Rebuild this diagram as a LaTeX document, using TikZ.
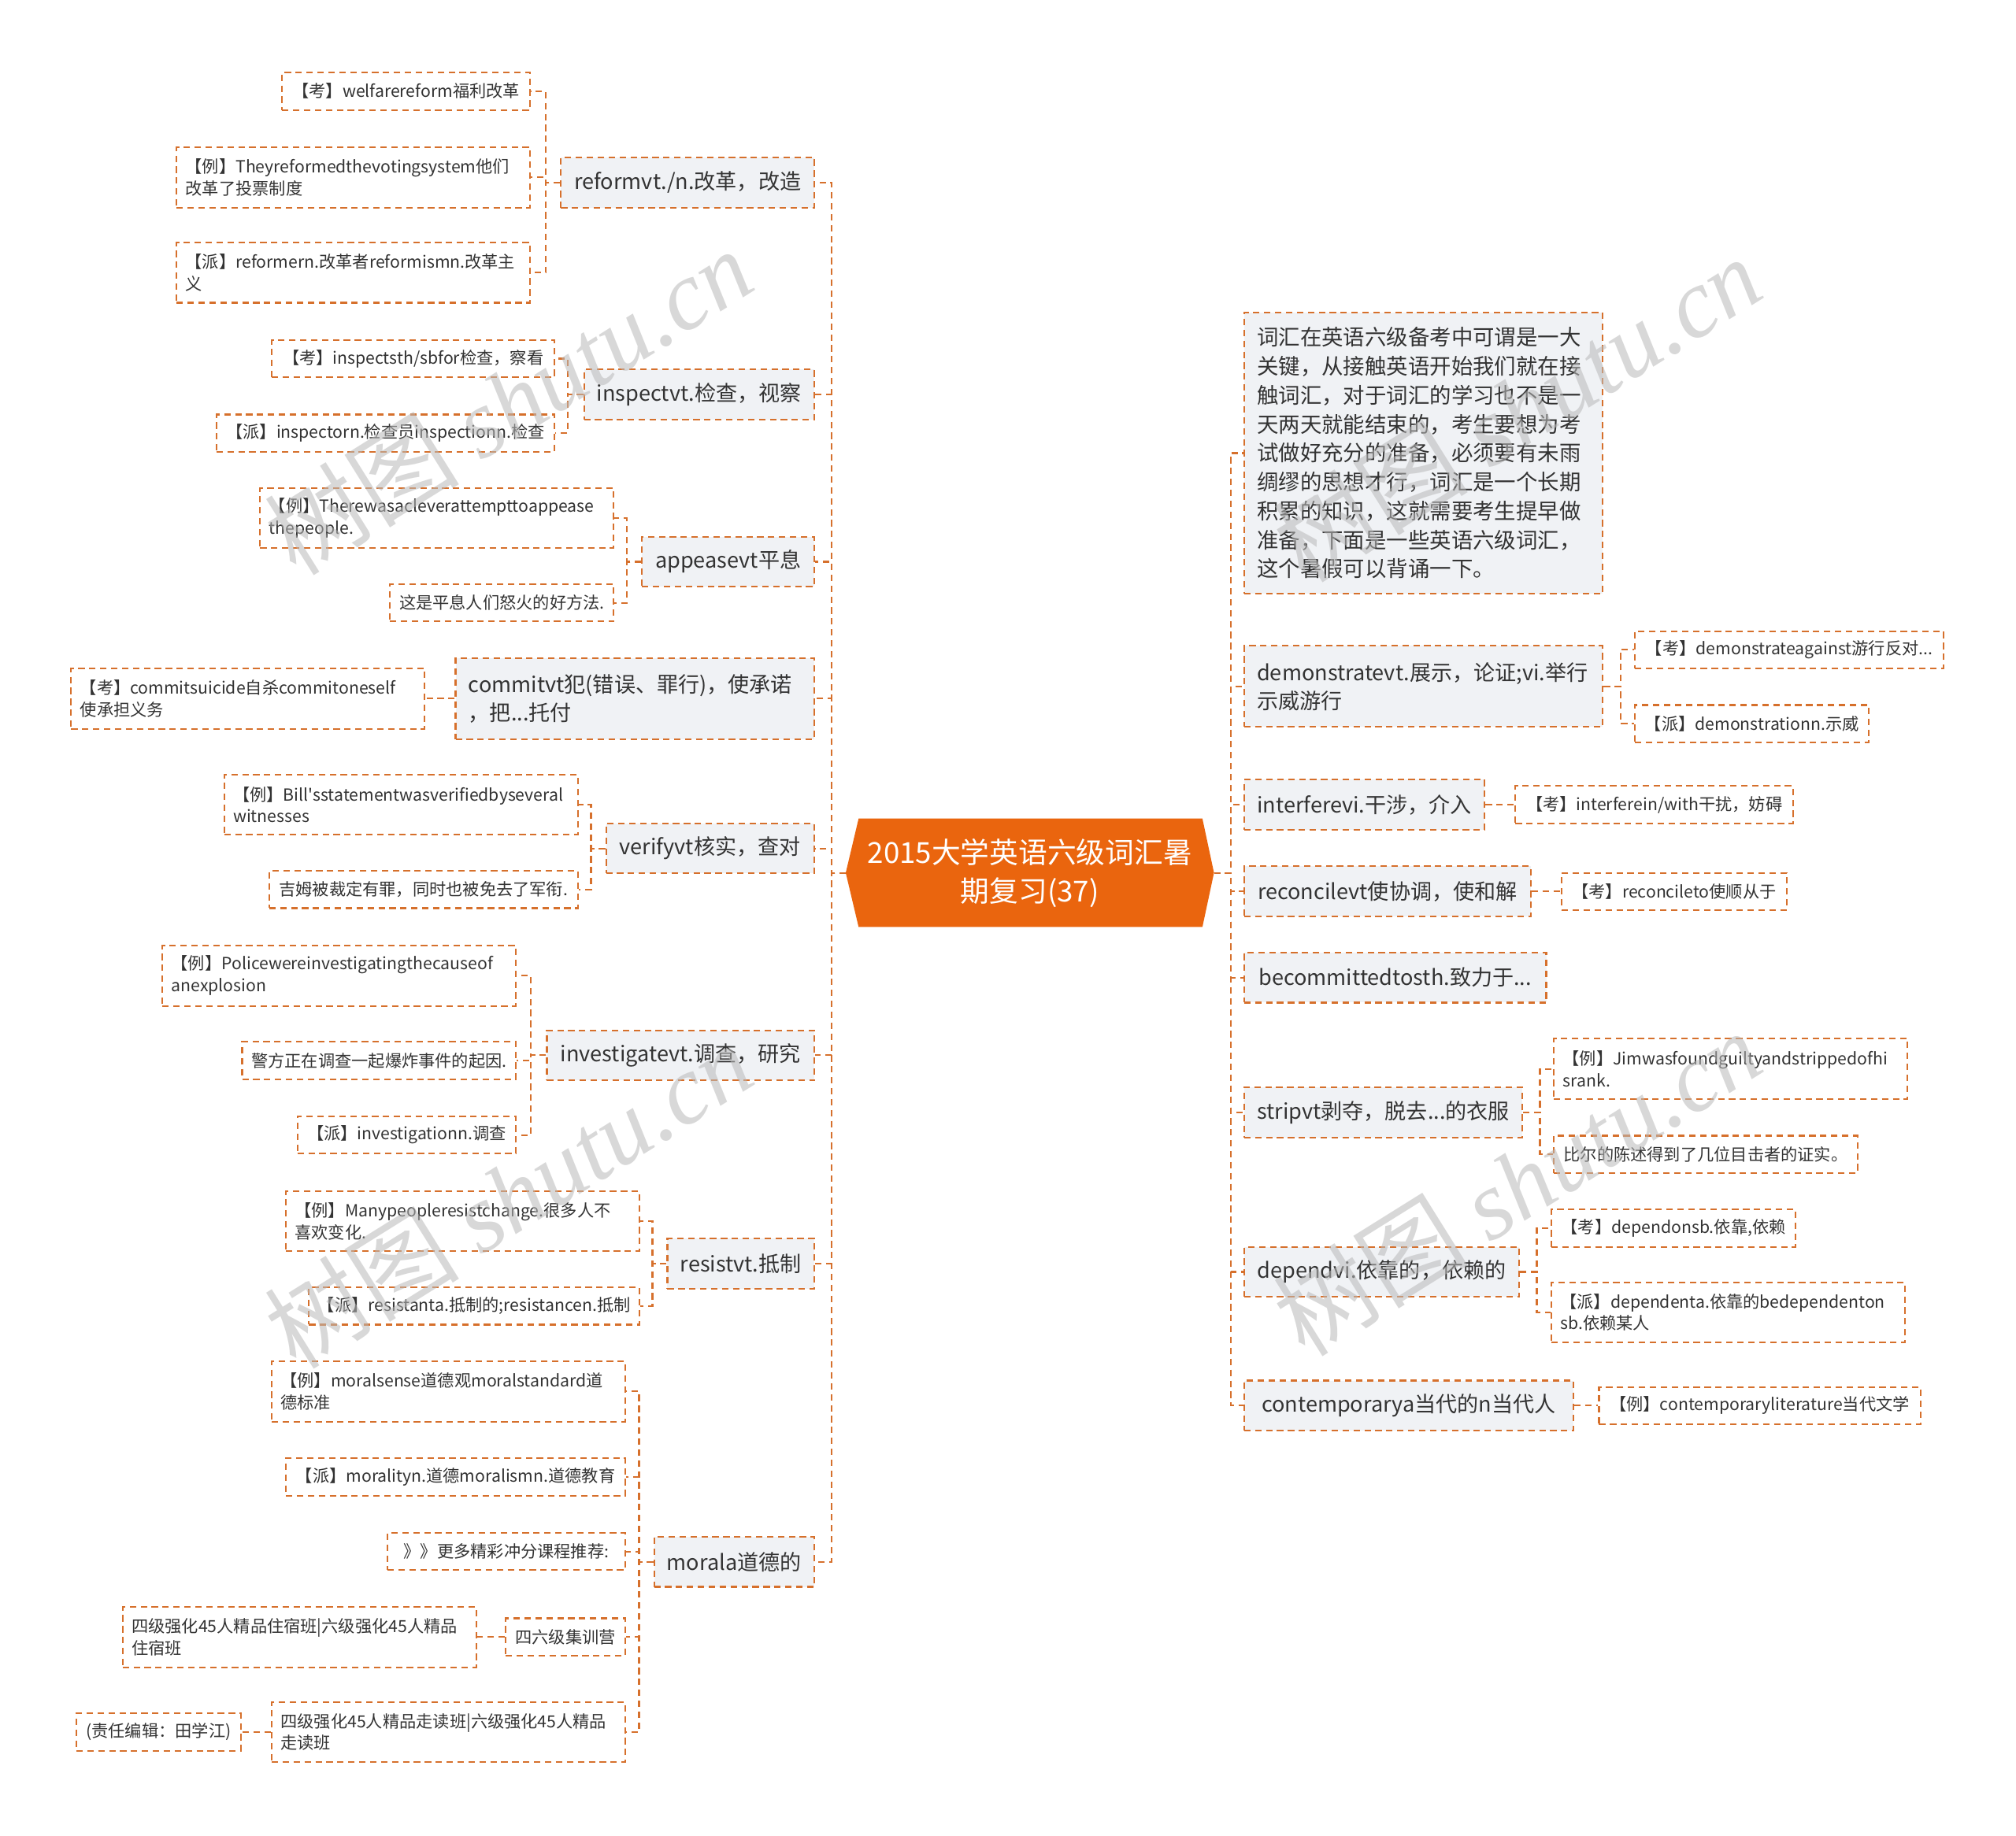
\documentclass[tikz,border=0pt]{standalone}
\usepackage{fontspec}
\setmainfont{Noto Sans CJK SC}
\newfontfamily\markfont{Liberation Serif}
\usetikzlibrary{backgrounds}
\definecolor{lineorange}{RGB}{214,112,44}
\definecolor{hubfill}{RGB}{234,101,14}
\definecolor{boxgray}{RGB}{240,242,245}
\definecolor{inktext}{RGB}{51,51,51}
\definecolor{markgray}{RGB}{185,185,185}
\tikzset{
  dashbox/.style={draw=lineorange, line width=1.3pt, dash pattern=on 5pt off 3.5pt},
  link/.style={dashbox},
  leaf/.style={dashbox, fill=white, text=inktext, font=\fontsize{13}{17}\selectfont, align=left, inner xsep=7pt, inner ysep=4pt, minimum height=29pt},
  leafwide/.style={leaf, text width=261pt, minimum height=47pt},
  branch/.style={dashbox, fill=boxgray, text=inktext, font=\fontsize{16.6}{22}\selectfont, align=left, inner xsep=10pt, inner ysep=4pt, minimum height=39pt},
  branchwide/.style={branch, text width=259pt, minimum height=63pt},
  wd/.style={minimum width=#1},
  hub/.style={text=white, font=\fontsize{22.5}{30}\selectfont, align=center, minimum width=286pt, minimum height=84pt, inner sep=0pt},
  stamp/.style={text=markgray, opacity=0.55, rotate=32, font=\fontsize{76}{76}\selectfont}
}
\begin{document}
\begin{tikzpicture}[x=1pt, y=-1pt]
\useasboundingbox (0,0) rectangle (1568,1428);

% centre
\node[hub] (hub) at (801,679) {2015大学英语六级词汇暑\\期复习(37)};
\begin{pgfonlayer}{background}
  \fill[white] (0,0) rectangle (1568,1428);
  \fill[hubfill] (hub.west) -- ([xshift=10pt]hub.north west) -- ([xshift=-9pt]hub.north east) -- (hub.east) -- ([xshift=-9pt]hub.south east) -- ([xshift=10pt]hub.south west) -- cycle;
\end{pgfonlayer}

% left branches
\node[branch, wd=197pt, anchor=east] (reform) at (634,142) {reformvt./n.改革，改造};
\node[branch, wd=178pt, anchor=east] (inspect) at (634,307) {inspectvt.检查，视察};
\node[branch, wd=134pt, anchor=east] (appease) at (634,437) {appeasevt平息};
\node[branchwide, anchor=east] (commit) at (634,543.5) {commitvt犯(错误、罪行)，使承诺\\，把...托付};
\node[branch, wd=162pt, anchor=east] (verify) at (634,660) {verifyvt核实，查对};
\node[branch, wd=208pt, anchor=east] (investigate) at (634,821) {investigatevt.调查，研究};
\node[branch, wd=113pt, anchor=east] (resist) at (634,983) {resistvt.抵制};
\node[branch, wd=124pt, anchor=east] (moral) at (634,1215) {morala道德的};
\foreach \b in {reform,inspect,appease,commit,verify,investigate,resist,moral}
  \draw[link] (hub.west) -- ++(-11,0) |- (\b.east);

% right branches
\node[branchwide, anchor=west, minimum height=219pt, font=\fontsize{16.8}{22.5}\selectfont] (intro) at (967,352.5) {词汇在英语六级备考中可谓是一大\\关键，从接触英语开始我们就在接\\触词汇，对于词汇的学习也不是一\\天两天就能结束的，考生要想为考\\试做好充分的准备，必须要有未雨\\绸缪的思想才行，词汇是一个长期\\积累的知识，这就需要考生提早做\\准备，下面是一些英语六级词汇，\\这个暑假可以背诵一下。};
\node[branchwide, anchor=west] (demo) at (967,534) {demonstratevt.展示，论证;vi.举行\\示威游行};
\node[branch, wd=187pt, anchor=west] (interfere) at (967,626) {interferevi.干涉，介入};
\node[branch, wd=223pt, anchor=west] (reconcile) at (967,693.5) {reconcilevt使协调，使和解};
\node[branch, wd=235pt, anchor=west] (committed) at (967,760.5) {becommittedtosth.致力于...};
\node[branch, wd=216pt, anchor=west] (strip) at (967,865.5) {stripvt剥夺，脱去...的衣服};
\node[branch, wd=214pt, anchor=west] (depend) at (967,989.5) {dependvi.依靠的，依赖的};
\node[branch, wd=256pt, anchor=west] (contemp) at (967,1093.5) {contemporarya当代的n当代人};
\foreach \b in {intro,demo,interfere,reconcile,committed,strip,depend,contemp}
  \draw[link] (hub.east) -- ++(13,0) |- (\b.west);

% reform
\node[leaf, wd=193pt, anchor=east] (reform1) at (413,71) {【考】welfarereform福利改革};
\node[leafwide, anchor=east] (reform2) at (413,138) {【例】Theyreformedthevotingsystem他们\\改革了投票制度};
\node[leafwide, anchor=east] (reform3) at (413,212) {【派】reformern.改革者reformismn.改革主\\义};
\foreach \l in {reform1,reform2,reform3}
  \draw[link] (reform.west) -- ++(-11,0) |- (\l.east);

% inspect
\node[leaf, wd=220pt, anchor=east] (inspect1) at (432,279) {【考】inspectsth/sbfor检查，察看};
\node[leaf, wd=263pt, anchor=east] (inspect2) at (432,337) {【派】inspectorn.检查员inspectionn.检查};
\foreach \l in {inspect1,inspect2}
  \draw[link] (inspect.west) -- ++(-12,0) |- (\l.east);

% appease
\node[leafwide, anchor=east] (appease1) at (478,403) {【例】Therewasacleverattempttoappease\\thepeople.};
\node[leaf, wd=174pt, anchor=east] (appease2) at (478,469) {这是平息人们怒火的好方法.};
\foreach \l in {appease1,appease2}
  \draw[link] (appease.west) -- ++(-11,0) |- (\l.east);

% commit
\node[leafwide, anchor=east] (commit1) at (331,543.5) {【考】commitsuicide自杀commitoneself\\使承担义务};
\draw[link] (commit.west) -- ++(-12,0) |- (commit1.east);

% verify
\node[leafwide, anchor=east] (verify1) at (450,626) {【例】Bill\textquotesingle sstatementwasverifiedbyseveral\\witnesses};
\node[leaf, wd=240pt, anchor=east] (verify2) at (450,692) {吉姆被裁定有罪，同时也被免去了军衔.};
\foreach \l in {verify1,verify2}
  \draw[link] (verify.west) -- ++(-11,0) |- (\l.east);

% investigate
\node[leafwide, anchor=east] (investigate1) at (402,759) {【例】Policewereinvestigatingthecauseof\\anexplosion};
\node[leaf, wd=213pt, anchor=east] (investigate2) at (402,825) {警方正在调查一起爆炸事件的起因.};
\node[leaf, wd=170pt, anchor=east] (investigate3) at (402,883) {【派】investigationn.调查};
\foreach \l in {investigate1,investigate2,investigate3}
  \draw[link] (investigate.west) -- ++(-12,0) |- (\l.east);

% resist
\node[leafwide, anchor=east] (resist1) at (498,950) {【例】Manypeopleresistchange.很多人不\\喜欢变化.};
\node[leaf, wd=257pt, anchor=east] (resist2) at (498,1016) {【派】resistanta.抵制的;resistancen.抵制};
\foreach \l in {resist1,resist2}
  \draw[link] (resist.west) -- ++(-11,0) |- (\l.east);

% moral
\node[leafwide, anchor=east] (moral1) at (487,1082.5) {【例】moralsense道德观moralstandard道\\德标准};
\node[leaf, wd=264pt, anchor=east] (moral2) at (487,1149) {【派】moralityn.道德moralismn.道德教育};
\node[leaf, wd=185pt, anchor=east] (moral3) at (487,1207) {》》更多精彩冲分课程推荐:};
\node[leaf, wd=93pt, anchor=east] (moral4) at (487,1273.5) {四六级集训营};
\node[leafwide, anchor=east] (moral5) at (487,1347.5) {四级强化45人精品走读班|六级强化45人精品\\走读班};
\foreach \l in {moral1,moral2,moral3,moral4,moral5}
  \draw[link] (moral.west) -- ++(-11,0) |- (\l.east);
\node[leafwide, anchor=east] (camp1) at (371,1273.5) {四级强化45人精品住宿班|六级强化45人精品\\住宿班};
\draw[link] (moral4.west) -- ++(-12,0) |- (camp1.east);
\node[leaf, wd=128pt, anchor=east] (editor) at (188,1347.5) {(责任编辑：田学江)};
\draw[link] (moral5.west) -- ++(-12,0) |- (editor.east);

% demonstrate
\node[leaf, wd=240pt, anchor=west] (demo1) at (1271,505.5) {【考】demonstrateagainst游行反对...};
\node[leaf, wd=182pt, anchor=west] (demo2) at (1271,563) {【派】demonstrationn.示威};
\foreach \l in {demo1,demo2}
  \draw[link] (demo.east) -- ++(13,0) |- (\l.west);

% interfere, reconcile
\node[leaf, wd=216pt, anchor=west] (interfere1) at (1178,626) {【考】interferein/with干扰，妨碍};
\draw[link] (interfere.east) -- ++(12,0) |- (interfere1.west);
\node[leaf, wd=175pt, anchor=west] (reconcile1) at (1214,693.5) {【考】reconcileto使顺从于};
\draw[link] (reconcile.east) -- ++(12,0) |- (reconcile1.west);

% strip
\node[leafwide, anchor=west] (strip1) at (1208,831.5) {【例】Jimwasfoundguiltyandstrippedofhi\\srank.};
\node[leaf, wd=236pt, anchor=west] (strip2) at (1208,898) {比尔的陈述得到了几位目击者的证实。};
\foreach \l in {strip1,strip2}
  \draw[link] (strip.east) -- ++(13,0) |- (\l.west);

% depend
\node[leaf, wd=190pt, anchor=west] (depend1) at (1206,955.5) {【考】dependonsb.依靠,依赖};
\node[leafwide, anchor=west] (depend2) at (1206,1021) {【派】dependenta.依靠的bedependenton\\sb.依赖某人};
\foreach \l in {depend1,depend2}
  \draw[link] (depend.east) -- ++(13,0) |- (\l.west);

% contemporary
\node[leaf, wd=250pt, anchor=west] (contemp1) at (1243,1093.5) {【例】contemporaryliterature当代文学};
\draw[link] (contemp.east) -- ++(10,0) |- (contemp1.west);

% watermarks
\node[stamp] (mark1) at (395,312) {树图 {\markfont\itshape shutu.cn}};
\node[stamp] (mark2) at (395,930) {树图 {\markfont\itshape shutu.cn}};
\node[stamp] (mark3) at (1180,318) {树图 {\markfont\itshape shutu.cn}};
\node[stamp] (mark4) at (1180,920) {树图 {\markfont\itshape shutu.cn}};
\end{tikzpicture}
\end{document}
